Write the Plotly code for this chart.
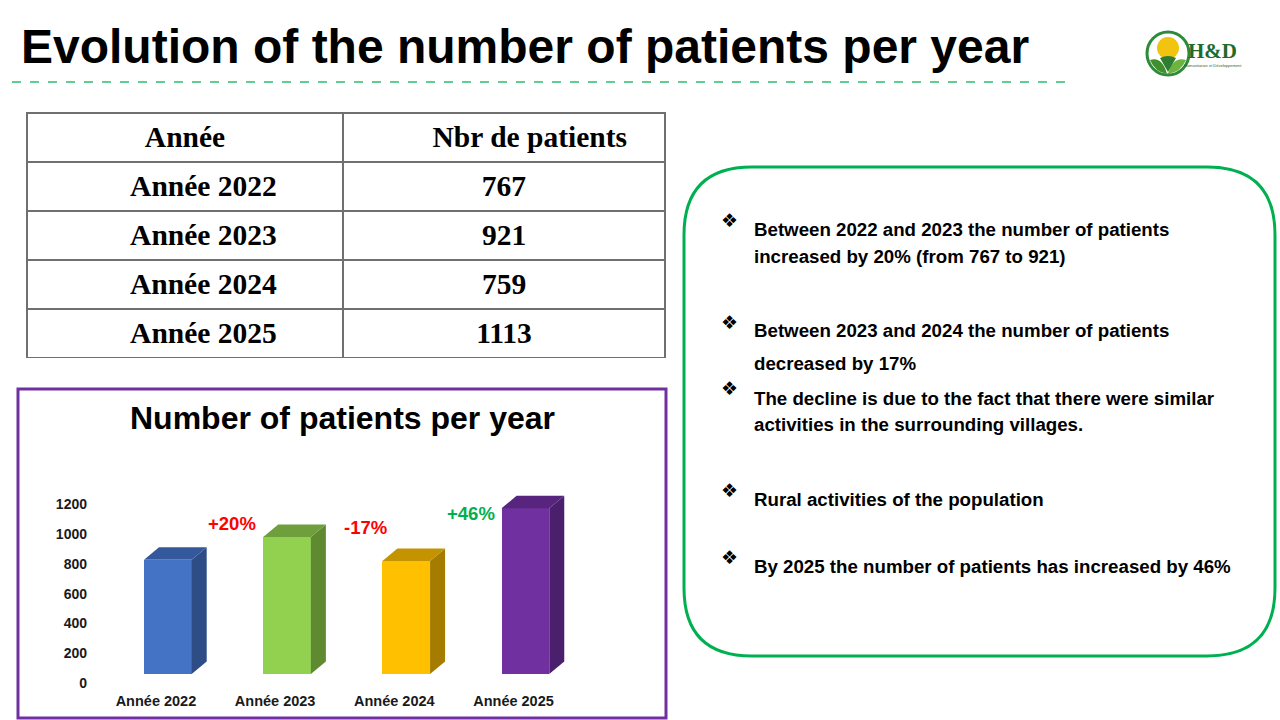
import plotly.graph_objects as go

# data
years = ['Année 2022', 'Année 2023', 'Année 2024', 'Année 2025']
patients = [767, 921, 759, 1113]
changes = ['', '+20%', '-17%', '+46%']
change_colors = ['', '#FF0000', '#FF0000', '#00B050']
y_ticks = [0, 200, 400, 600, 800, 1000, 1200]

front_colors = ['#4472C4', '#92D050', '#FFC000', '#7030A0']
side_colors = ['#2E4C86', '#5F8A32', '#A67C00', '#4A1F6B']
top_colors = ['#33589C', '#6F9E3C', '#C49300', '#57257D']

bullets = [
    ['Between 2022 and 2023 the number of patients', 'increased by 20% (from 767 to 921)'],
    ['Between 2023 and 2024 the number of patients', 'decreased by 17%'],
    ['The decline is due to the fact that there were similar', 'activities in the surrounding villages.'],
    ['Rural activities of the population'],
    ['By 2025 the number of patients has increased by 46%'],
]

W, H = 1280, 720


def px(x):
    return x / W


def py(y):
    return 1 - y / H


def round_rect(x0, y0, x1, y1, r):
    rx, ry = r / W, r / H
    X0, X1, Y0, Y1 = px(x0), px(x1), py(y1), py(y0)
    return (f"M {X0+rx},{Y1} L {X1-rx},{Y1} Q {X1},{Y1} {X1},{Y1-ry} "
            f"L {X1},{Y0+ry} Q {X1},{Y0} {X1-rx},{Y0} L {X0+rx},{Y0} "
            f"Q {X0},{Y0} {X0},{Y0+ry} L {X0},{Y1-ry} Q {X0},{Y1} {X0+rx},{Y1} Z")


fig = go.Figure()

# 3D-ish bars: front face as bar, side/top as filled polygons
shift, bw = 0.10, 0.40
dx, dy = 0.126, 84
lift = 60
for i, (yr, v) in enumerate(zip(years, patients)):
    c = i + shift
    L, R, B, T = c - bw / 2, c + bw / 2, lift, lift + v
    fig.add_trace(go.Scatter(x=[R, R + dx, R + dx, R, R], y=[B, B + dy, T + dy, T, B],
                             fill='toself', fillcolor=side_colors[i], mode='lines',
                             line=dict(width=0), hoverinfo='skip', showlegend=False))
    fig.add_trace(go.Scatter(x=[L, L + dx, R + dx, R, L], y=[T, T + dy, T + dy, T, T],
                             fill='toself', fillcolor=top_colors[i], mode='lines',
                             line=dict(width=0), hoverinfo='skip', showlegend=False))
fig.add_trace(go.Bar(x=[i + shift for i in range(len(years))], y=patients, base=lift,
                     width=bw, marker=dict(color=front_colors, line=dict(width=0)),
                     showlegend=False, hovertext=years))

fig.update_xaxes(domain=[px(88), px(585)], range=[-0.57, 3.6],
                 tickvals=list(range(len(years))), ticktext=[f'<b>{y}</b>' for y in years],
                 showgrid=False, zeroline=False, showline=False,
                 tickfont=dict(size=14.5, color='#1a1a1a', family='Liberation Sans'))
fig.update_yaxes(domain=[py(690), py(482)], range=[-47, 1350],
                 tickvals=y_ticks, ticktext=[f'<b>{t}</b>' for t in y_ticks],
                 showgrid=False, zeroline=False, showline=False,
                 tickfont=dict(size=14, color='#1a1a1a', family='Liberation Sans'))

# table
pad = '\u00a0' * 7
pad1 = '\u00a0' * 5
fig.add_trace(go.Table(
    domain=dict(x=[px(27), px(665)], y=[py(358), py(113)]),
    columnwidth=[316, 322],
    header=dict(values=['<b>Année</b>', f'{pad}<b>Nbr de patients</b>'],
                fill_color='white', line=dict(color='#707070', width=1.5),
                font=dict(size=29.5, color='black', family='Liberation Serif'),
                align='center', height=49),
    cells=dict(values=[[f'{pad1}<b>{y}</b>' for y in years], [f'<b>{p}</b>' for p in patients]],
               fill_color='white', line=dict(color='#707070', width=1.5),
               font=dict(size=29.5, color='black', family='Liberation Serif'),
               align='center', height=49),
))

shapes = [
    dict(type='line', xref='paper', yref='paper', x0=px(12), x1=px(1070), y0=py(82), y1=py(82),
         line=dict(color='#2DBE6C', width=1.4, dash='dash')),
    dict(type='rect', xref='paper', yref='paper', x0=px(18), x1=px(666), y0=py(718), y1=py(389),
         line=dict(color='#7030A0', width=3)),
    dict(type='path', xref='paper', yref='paper', path=round_rect(684, 167, 1275, 656, 68),
         line=dict(color='#00B050', width=3)),
    # logo
    dict(type='circle', xref='paper', yref='paper', x0=px(1157), x1=px(1179), y0=py(59), y1=py(37),
         fillcolor='#F2C40F', line=dict(width=0)),
    dict(type='path', xref='paper', yref='paper',
         path=f"M {px(1150)},{py(60)} Q {px(1162)},{py(56)} {px(1167)},{py(74)} "
              f"Q {px(1155)},{py(72)} {px(1150)},{py(60)} Z",
         fillcolor='#3F8F2C', line=dict(width=0)),
    dict(type='path', xref='paper', yref='paper',
         path=f"M {px(1186)},{py(60)} Q {px(1173)},{py(56)} {px(1168)},{py(74)} "
              f"Q {px(1181)},{py(72)} {px(1186)},{py(60)} Z",
         fillcolor='#6DB33F', line=dict(width=0)),
    dict(type='path', xref='paper', yref='paper',
         path=f"M {px(1160)},{py(58)} Q {px(1168)},{py(54)} {px(1176)},{py(58)} "
              f"L {px(1168)},{py(72)} Z",
         fillcolor='#2E7D32', line=dict(width=0)),
    dict(type='circle', xref='paper', yref='paper', x0=px(1147), x1=px(1189), y0=py(75), y1=py(32),
         line=dict(color='#2E8B3A', width=3)),
]

annotations = [
    dict(text='<b>Evolution of the number of patients per year</b>', x=px(19), y=py(47),
         xanchor='left', yanchor='middle', font=dict(size=48, color='black', family='Liberation Sans')),
    dict(text='<b>Number of patients per year</b>', x=px(342), y=py(418),
         xanchor='center', yanchor='middle', font=dict(size=32, color='black', family='Liberation Sans')),
    dict(text='<b>H&amp;D</b>', x=px(1212), y=py(51), xanchor='center', yanchor='middle',
         font=dict(size=21, color='#1F6B2A', family='Liberation Serif')),
    dict(text='Humanitarian et Développement', x=px(1213), y=py(65), xanchor='center', yanchor='middle',
         font=dict(size=4, color='#1F6B2A', family='Liberation Sans')),
]

bullet_y = [220, 322, 388, 490, 557]
line_y = [[230, 256], [331, 363], [398, 424], [499], [566]]
for b, lines, ys in zip(bullet_y, bullets, line_y):
    annotations.append(dict(text='❖', x=px(729), y=py(b), xanchor='center', yanchor='middle',
                            font=dict(size=19, color='black', family='DejaVu Sans')))
    for t, yy in zip(lines, ys):
        annotations.append(dict(text=f'<b>{t}</b>', x=px(752), y=py(yy), xanchor='left',
                                yanchor='middle', font=dict(size=18.7, color='black',
                                                            family='Liberation Sans')))

for a in annotations:
    a.update(xref='paper', yref='paper', showarrow=False)

# percent labels, in data coordinates
label_dx = [0, -0.36, -0.24, -0.36]
label_dy = [0, 153, 288, 28]
for i, t in enumerate(changes):
    if t:
        annotations.append(dict(x=i + label_dx[i], y=patients[i] + label_dy[i], xref='x', yref='y',
                                text=f'<b>{t}</b>', showarrow=False,
                                font=dict(size=18.5, color=change_colors[i], family='Liberation Sans')))

fig.update_layout(width=W, height=H, margin=dict(l=0, r=0, t=0, b=0),
                  paper_bgcolor='white', plot_bgcolor='white', bargap=0,
                  shapes=shapes, annotations=annotations)

fig.write_html('out.html', config={'displayModeBar': False},
               post_script="document.body.style.margin='0';")
